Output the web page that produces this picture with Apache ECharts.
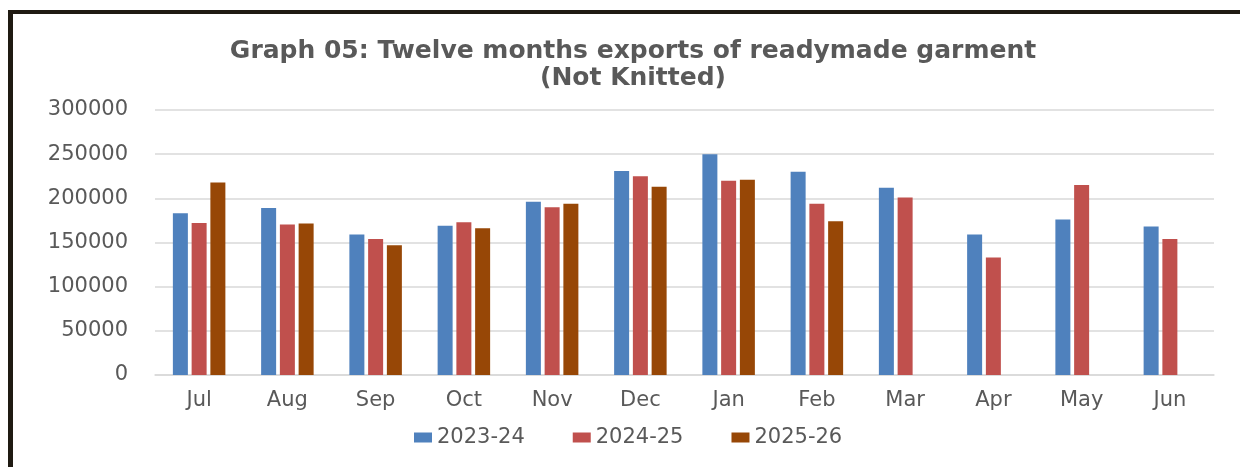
<!DOCTYPE html>
<html>
<head>
<meta charset="utf-8">
<script src="https://cdn.jsdelivr.net/npm/echarts@6/dist/echarts.min.js"></script>
<style>
html,body{margin:0;padding:0;background:#fff;}
#chart{position:absolute;left:0;top:0;width:1240px;height:467px;}
.bl{position:absolute;left:8px;top:10px;width:5px;height:457px;background:#1f1a12;}
.bt{position:absolute;left:8px;top:10px;width:1232px;height:4px;background:#1f1a12;}
</style>
</head>
<body>
<div id="chart"></div>
<div class="bl"></div>
<div class="bt"></div>
<script>
const months = ['Jul','Aug','Sep','Oct','Nov','Dec','Jan','Feb','Mar','Apr','May','Jun'];
const seriesNames = ['2023-24','2024-25','2025-26'];
const fy2023_24 = [183000,189000,159000,169000,196000,231000,250000,230000,212000,159000,176000,168000];
const fy2024_25 = [172000,170500,154000,173000,190000,225000,220000,194000,201000,133000,215000,154000];
const fy2025_26 = [218000,171500,147000,166000,194000,213000,221000,174000,null,null,null,null];
const yTicks = {min:0, max:300000, interval:50000};
const colors = ['#4F81BD','#C0504D','#974706'];

const chart = echarts.init(document.getElementById('chart'));
const txt = '#595959';
chart.setOption({
  animation:false,
  backgroundColor:'#fff',
  color: colors,
  title:{
    text:'Graph 05: Twelve months exports of readymade garment\n(Not Knitted)',
    left:628, top:33,
    textAlign:'center',
    textStyle:{fontFamily:'DejaVu Sans', fontWeight:'bold', fontSize:25, color:txt, lineHeight:27}
  },
  legend:{
    bottom:14, left:409,
    itemWidth:18, itemHeight:10, itemGap:48,
    icon:'rect',
    textStyle:{fontFamily:'DejaVu Sans', fontSize:21, color:txt},
    data: seriesNames
  },
  grid:{left:155, right:26, top:110, bottom:92},
  xAxis:{
    type:'category', data:months,
    axisLine:{lineStyle:{color:'#d9d9d9', width:1.5}},
    axisTick:{show:false},
    axisLabel:{fontFamily:'DejaVu Sans', fontSize:21, color:txt, margin:15}
  },
  yAxis:{
    type:'value', min:yTicks.min, max:yTicks.max, interval:yTicks.interval,
    axisLine:{show:false}, axisTick:{show:false},
    splitLine:{lineStyle:{color:'#d9d9d9', width:1.5}},
    axisLabel:{fontFamily:'DejaVu Sans', fontSize:21, color:txt, margin:27, formatter:v=>String(v)}
  },
  series: seriesNames.map((n,i)=>({
    name:n, type:'bar', barWidth:15, barGap:'25%',
    data:[fy2023_24,fy2024_25,fy2025_26][i],
    itemStyle:{color:colors[i]}
  }))
});
</script>
</body>
</html>
